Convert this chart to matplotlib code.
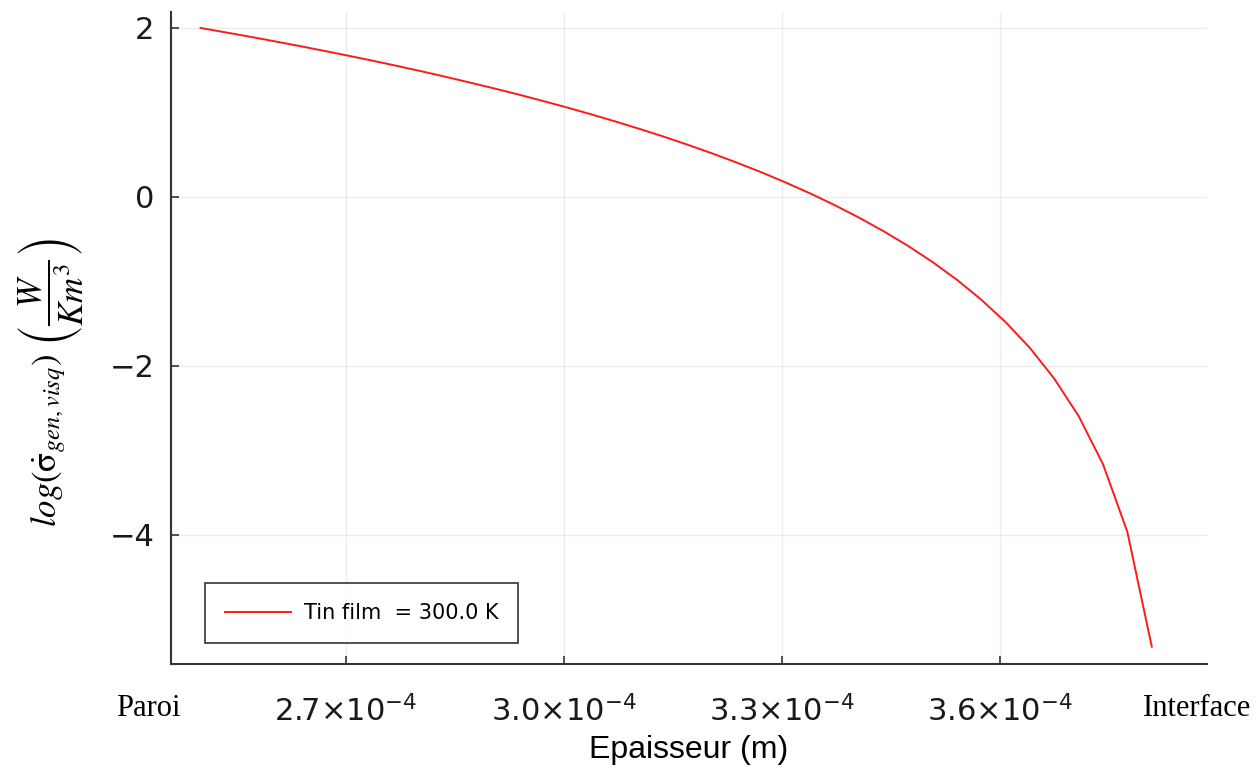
import matplotlib
matplotlib.use("Agg")
import matplotlib.pyplot as plt
from matplotlib.ticker import FixedLocator, FixedFormatter

# Epaisseur du film (m), de la paroi vers l'interface
epaisseur = [2.5000, 2.5336, 2.5671, 2.6007, 2.6343, 2.6678, 2.7014, 2.7349,
             2.7685, 2.8021, 2.8356, 2.8692, 2.9028, 2.9363, 2.9699, 3.0035,
             3.0370, 3.0706, 3.1042, 3.1377, 3.1713, 3.2048, 3.2384, 3.2720,
             3.3055, 3.3391, 3.3727, 3.4062, 3.4398, 3.4734, 3.5069, 3.5405,
             3.5740, 3.6076, 3.6412, 3.6747, 3.7083, 3.7419, 3.7754, 3.8090]
epaisseur = [e * 1e-4 for e in epaisseur]

# log de la generation d'entropie visqueuse
log_sigma = [2.000, 1.949, 1.898, 1.844, 1.789, 1.733, 1.675, 1.616,
             1.554, 1.491, 1.425, 1.357, 1.287, 1.215, 1.139, 1.061,
             0.979, 0.894, 0.805, 0.713, 0.615, 0.513, 0.405, 0.291,
             0.170, 0.041, -0.097, -0.245, -0.405, -0.578, -0.768, -0.978,
             -1.213, -1.479, -1.786, -2.149, -2.592, -3.163, -3.964, -5.322]

xticks = [2.7e-4, 3.0e-4, 3.3e-4, 3.6e-4]
xtick_labels = [r"$2.7{\times}10^{-4}$", r"$3.0{\times}10^{-4}$",
                r"$3.3{\times}10^{-4}$", r"$3.6{\times}10^{-4}$"]
yticks = [2, 0, -2, -4]
legend_label = "Tin film  = 300.0 K"

fig = plt.figure(figsize=(12.6, 7.73), dpi=100)
ax = fig.add_axes([171 / 1260, 109 / 773, (1207 - 171) / 1260, (664 - 12) / 773])

ax.plot(epaisseur, log_sigma, color="#ff1a1a", lw=1.4, label=legend_label)

ax.set_xlim(2.4592e-4, 3.885e-4)
ax.set_ylim(-5.527, 2.189)

ax.xaxis.set_major_locator(FixedLocator(xticks))
ax.xaxis.set_major_formatter(FixedFormatter(xtick_labels))
ax.set_yticks(yticks)
ax.set_yticklabels(["2", "0", "\u22122", "\u22124"])

ax.grid(True, color="black", alpha=0.07, lw=1)
for side in ["top", "right"]:
    ax.spines[side].set_visible(False)
for side in ["left", "bottom"]:
    ax.spines[side].set_color("#333333")
    ax.spines[side].set_linewidth(1.5)

ax.tick_params(axis="both", direction="in", length=6, width=1.2, color="#333333",
               labelsize=22, labelcolor="#1a1a1a")
ax.tick_params(axis="x", pad=22)
ax.tick_params(axis="y", pad=12)

ax.set_xlabel("Epaisseur (m)", fontsize=23, family="Liberation Sans", labelpad=6)
ax.set_ylabel(r"$log\left(\dot{\mathrm{\sigma}}_{gen,visq}\right)\ \left(\dfrac{W}{Km^3}\right)$",
              fontsize=25, math_fontfamily="stix")
ax.yaxis.set_label_coords(-0.082, 0.431)

leg = ax.legend(loc="lower left", bbox_to_anchor=(34 / 1036, 21 / 652),
                fontsize=15, frameon=True, fancybox=False, borderpad=0.95,
                handlelength=3.2, handletextpad=0.6, borderaxespad=0)
leg.get_frame().set_edgecolor("black")
leg.get_frame().set_linewidth(1.2)

fig.text(148 / 1260, 1 - 708 / 773, "Paroi", family="Liberation Serif",
         fontsize=22, ha="center", va="center")
fig.text(1197 / 1260, 1 - 708 / 773, "Interface", family="Liberation Serif",
         fontsize=22, ha="center", va="center")

fig.savefig("out.png", dpi=100)
